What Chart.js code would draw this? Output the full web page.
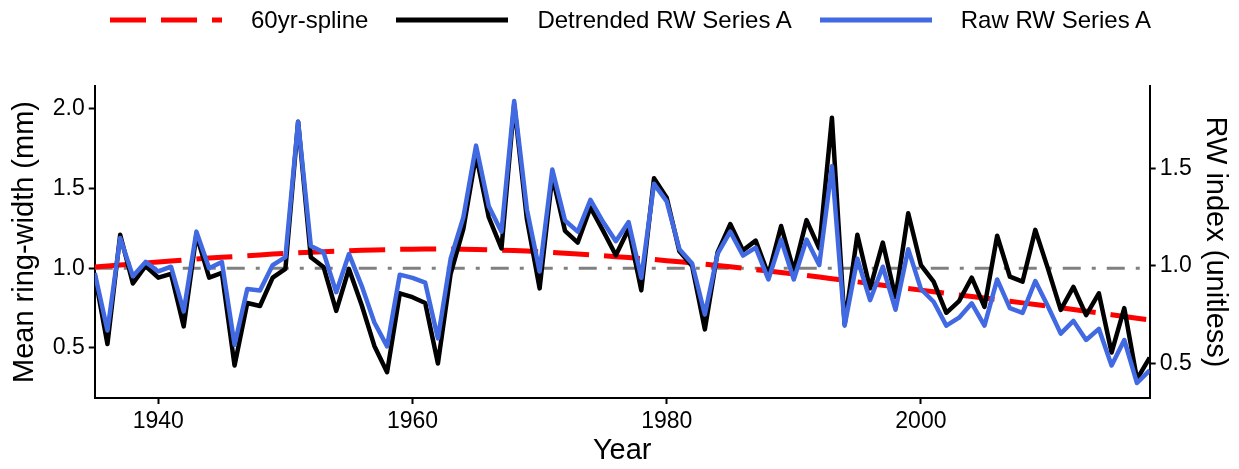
<!DOCTYPE html>
<html>
<head>
<meta charset="utf-8">
<script src="https://cdn.jsdelivr.net/npm/chart.js@4.4.0/dist/chart.umd.min.js"></script>
<style>
  html, body { margin: 0; padding: 0; background: #fff; }
  #wrap { position: relative; width: 1239px; height: 469px; }
  #legend {
    position: absolute; left: 110px; top: 4px; height: 32px;
    display: flex; align-items: center;
    font: 24px "Liberation Sans", Arial, sans-serif; color: #000;
  }
  .item { display: flex; align-items: center; margin-right: 28px; }
  .key { width: 112px; height: 8px; margin-right: 29px; display: block; }
  canvas { position: absolute; left: 0; top: 0; }
</style>
</head>
<body>
<div id="wrap">
  <canvas id="rwChart" width="1239" height="469"></canvas>
  <div id="legend"></div>
</div>
<script>
// ring-width series, one value per year starting 1935
const firstYear = 1935;

const rawRW = [
  0.97, 0.61, 1.19, 0.95, 1.04, 0.98, 1.01, 0.73, 1.23, 1.00,
  1.04, 0.52, 0.87, 0.86, 1.02, 1.07, 1.92, 1.14, 1.10, 0.85,
  1.09, 0.89, 0.66, 0.51, 0.96, 0.94, 0.91, 0.56, 1.06, 1.32,
  1.77, 1.39, 1.23, 2.05, 1.37, 0.98, 1.62, 1.30, 1.23, 1.43,
  1.29, 1.17, 1.29, 0.94, 1.53, 1.42, 1.12, 1.03, 0.71, 1.09,
  1.23, 1.08, 1.13, 0.93, 1.18, 0.93, 1.18, 1.02, 1.64, 0.64,
  1.06, 0.80, 1.01, 0.74, 1.12, 0.87, 0.79, 0.64, 0.69, 0.78,
  0.64, 0.93, 0.75, 0.72, 0.92, 0.76, 0.59, 0.67, 0.55, 0.62,
  0.39, 0.55, 0.28, 0.36
];

const detrendedRW = [
  0.955, 0.60, 1.16, 0.91, 1.00, 0.94, 0.96, 0.69, 1.16, 0.94,
  0.965, 0.49, 0.81, 0.795, 0.94, 0.985, 1.74, 1.045, 0.995, 0.77,
  0.985, 0.80, 0.59, 0.455, 0.86, 0.84, 0.81, 0.50, 0.96, 1.19,
  1.57, 1.25, 1.09, 1.83, 1.24, 0.885, 1.46, 1.18, 1.12, 1.30,
  1.18, 1.055, 1.19, 0.875, 1.45, 1.35, 1.075, 1.00, 0.675, 1.07,
  1.215, 1.08, 1.13, 0.955, 1.205, 0.975, 1.235, 1.09, 1.76, 0.70,
  1.16, 0.885, 1.12, 0.84, 1.27, 1.005, 0.92, 0.76, 0.82, 0.94,
  0.79, 1.155, 0.945, 0.92, 1.185, 0.985, 0.775, 0.893, 0.748, 0.86,
  0.556, 0.784, 0.42, 0.53
];

const spline60 = [
  1.008, 1.015, 1.021, 1.027, 1.034, 1.040, 1.046, 1.052, 1.058, 1.064,
  1.069, 1.074, 1.079, 1.084, 1.089, 1.093, 1.097, 1.101, 1.104, 1.107,
  1.110, 1.113, 1.115, 1.117, 1.119, 1.120, 1.121, 1.121, 1.121, 1.120,
  1.118, 1.116, 1.114, 1.111, 1.108, 1.104, 1.100, 1.095, 1.090, 1.085,
  1.079, 1.073, 1.067, 1.061, 1.055, 1.048, 1.041, 1.034, 1.026, 1.018,
  1.010, 1.001, 0.992, 0.983, 0.974, 0.964, 0.955, 0.945, 0.935, 0.925,
  0.915, 0.905, 0.894, 0.884, 0.873, 0.863, 0.853, 0.843, 0.833, 0.823,
  0.813, 0.803, 0.793, 0.783, 0.773, 0.763, 0.753, 0.742, 0.731, 0.720,
  0.709, 0.698, 0.687, 0.676
];

const xTicks = [1940, 1960, 1980, 2000];
const mmTicks = [0.5, 1.0, 1.5, 2.0];
const indexTicks = [0.5, 1.0, 1.5];

const years = rawRW.map((_, i) => firstYear + i);
const toPoints = vals => vals.map((v, i) => ({ x: years[i], y: v }));

const FONT = '"Liberation Sans", Arial, sans-serif';

function axisStyle(ticks) {
  return {
    afterBuildTicks: s => { s.ticks = ticks.map(v => ({ value: v })); },
    border: { display: true, color: '#000', width: 2 },
    grid: { display: true, drawOnChartArea: false, drawTicks: true, tickLength: 6, tickColor: '#000', tickWidth: 2 },
    ticks: { color: '#000', padding: 4, font: { family: FONT, size: 23 } }
  };
}

const xAxis = axisStyle(xTicks);
xAxis.type = 'linear';
xAxis.min = 1935;
xAxis.max = 2018;
xAxis.afterFit = s => { s.height = 71; };
xAxis.ticks.callback = v => String(v);
xAxis.title = { display: true, text: 'Year', color: '#000', font: { family: FONT, size: 29, lineHeight: 1 }, padding: { top: 0, bottom: 4 } };

const yAxis = axisStyle(mmTicks);
yAxis.position = 'left';
yAxis.min = 0.186;
yAxis.max = 2.144;
yAxis.afterFit = s => { s.width = 94.75; };
yAxis.ticks.callback = v => v.toFixed(1);
yAxis.title = { display: true, text: 'Mean ring-width (mm)', color: '#000', font: { family: FONT, size: 29, lineHeight: 1 }, padding: { top: 10, bottom: 0 } };

const y1Axis = axisStyle(indexTicks);
y1Axis.position = 'right';
y1Axis.min = 0.323;
y1Axis.max = 1.923;
y1Axis.afterFit = s => { s.width = 1239 - 1149.7; };
y1Axis.ticks.callback = v => v.toFixed(1);
y1Axis.title = { display: true, text: 'RW index (unitless)', color: '#000', font: { family: FONT, size: 29, lineHeight: 1 }, padding: { top: 10, bottom: 0 } };

new Chart(document.getElementById('rwChart'), {
  type: 'line',
  data: {
    datasets: [
      {
        label: 'Raw RW Series A',
        data: toPoints(rawRW),
        yAxisID: 'y',
        borderColor: '#4169E1',
        borderWidth: 4.5,
        order: 0
      },
      {
        label: 'Detrended RW Series A',
        data: toPoints(detrendedRW),
        yAxisID: 'y1',
        borderColor: '#000000',
        borderWidth: 4.5,
        order: 1
      },
      {
        label: '60yr-spline',
        data: toPoints(spline60),
        yAxisID: 'y',
        borderColor: '#FF0000',
        borderWidth: 5,
        borderDash: [36, 15],
        borderJoinStyle: 'miter',
        order: 2
      },
      {
        label: 'index = 1',
        data: [{ x: 1935, y: 1 }, { x: 2018, y: 1 }],
        yAxisID: 'y',
        borderColor: '#808080',
        borderWidth: 3,
        borderDash: [18, 11, 4, 11],
        order: 3
      }
    ]
  },
  options: {
    responsive: false,
    animation: false,
    layout: { padding: { top: 86, left: 0, right: 0, bottom: 0 } },
    elements: {
      point: { radius: 0 },
      line: { tension: 0, borderJoinStyle: 'round', borderCapStyle: 'butt', fill: false }
    },
    plugins: { legend: { display: false }, tooltip: { enabled: false } },
    scales: { x: xAxis, y: yAxis, y1: y1Axis }
  }
});

// legend row above the plot
const legendItems = [
  { text: '60yr-spline', color: '#FF0000', width: 5, dash: '36 15' },
  { text: 'Detrended RW Series A', color: '#000000', width: 5, dash: '' },
  { text: 'Raw RW Series A', color: '#4169E1', width: 5, dash: '' }
];
const legend = document.getElementById('legend');
legendItems.forEach(item => {
  const el = document.createElement('div');
  el.className = 'item';
  el.innerHTML =
    `<svg class="key" viewBox="0 0 112 8"><line x1="0" y1="4" x2="112" y2="4" stroke="${item.color}" stroke-width="${item.width}"` +
    (item.dash ? ` stroke-dasharray="${item.dash}"` : '') + `/></svg><span>${item.text}</span>`;
  legend.appendChild(el);
});
</script>
</body>
</html>
